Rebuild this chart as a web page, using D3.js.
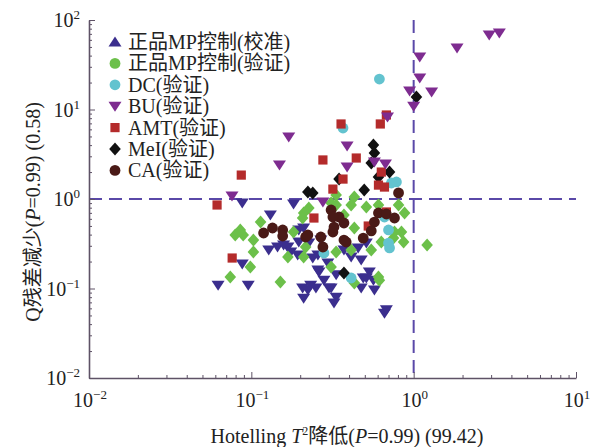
<!DOCTYPE html>
<html>
<head>
<meta charset="utf-8">
<script src="https://cdn.jsdelivr.net/npm/d3@7"></script>
<style>
  body { margin: 0; background: #fff; }
  text { font-family: "Liberation Serif", "Times New Roman", "Noto Sans CJK SC", serif; fill: #222; }
</style>
</head>
<body>
<div id="chart"></div>
<script>
// series values: [Hotelling T2, Q residual]
var mpCalib = [[0.0624,0.109],[0.0957,0.109],[0.0879,0.188],[0.131,0.663],[0.0879,0.902],[0.182,0.88],
  [0.128,0.269],[0.145,0.291],[0.158,0.306],[0.168,0.291],[0.175,0.256],[0.193,0.237],[0.196,0.331],
  [0.226,0.322],[0.210,0.474],[0.196,0.451],[0.207,0.101],[0.210,0.078],[0.232,0.109],[0.257,0.161],
  [0.280,0.124],[0.301,0.101],[0.333,0.080],[0.257,0.237],[0.250,0.101],[0.310,0.101],[0.333,0.142],
  [0.323,0.069],[0.412,0.225],[0.475,0.208],[0.511,0.322],[0.533,0.153],[0.573,0.096],[0.489,0.131],
  [0.661,0.053],[0.296,0.193],[0.372,0.269],[0.455,0.284],[0.268,0.348],[0.565,0.124],[0.239,0.219],
  [0.261,0.153],[0.223,0.096],[0.475,0.101],[0.511,0.131],[0.679,0.058]];
var mpValid = [[0.114,0.553],[0.0796,0.396],[0.0891,0.396],[0.103,0.348],[0.103,0.256],[0.0986,0.174],
  [0.0742,0.134],[0.151,0.118],[0.168,0.225],[0.182,0.428],[0.210,0.698],[0.226,0.793],[0.310,0.902],
  [0.210,0.225],[0.333,0.857],[0.412,0.857],[0.372,0.663],[0.511,0.814],[0.431,0.474],[0.607,0.857],
  [0.807,0.857],[0.879,0.698],[0.762,0.428],[0.841,0.428],[0.751,0.366],[0.867,0.331],[0.632,0.331],
  [1.21,0.306],[0.548,0.269],[0.412,0.269],[0.333,0.256],[0.207,0.613],[0.216,0.291],[0.607,0.134],
  [0.431,0.115],[0.310,0.174],[0.615,0.124],[0.0855,0.451],[0.431,1.05],[0.333,1.11]];
var dcValid = [[0.615,21.9],[0.367,6.21],[0.783,1.55],[0.729,1.51],[0.661,0.629],[0.700,0.322],
  [0.710,0.284],[0.700,0.451],[0.412,0.131],[0.280,0.249]];
var buValid = [[0.076,1.08],[0.149,2.40],[0.170,4.93],[0.276,0.926],[0.389,3.91],[0.389,2.28],
  [0.573,2.59],[0.670,2.46],[0.690,8.24],[0.944,16.1],[1.00,10.9],[1.29,15.7],[1.09,22.5],
  [1.09,38.6],[1.85,48.7],[2.92,68],[3.37,71.6]];
var amtValid = [[0.0615,0.857],[0.0867,1.85],[0.0762,0.219],[0.276,2.73],[0.318,1.29],[0.243,0.613],
  [0.357,6.89],[0.623,6.89],[0.679,8.68],[0.443,2.87],[0.367,1.67],[0.632,2.00],[0.607,1.43],
  [0.661,1.36],[0.679,0.716],[0.525,0.499]];
var meiValid = [[0.223,1.20],[0.565,4.01],[0.573,3.27],[0.347,1.67],[0.496,1.26],[0.710,2.00],
  [0.607,1.76],[0.548,2.53],[0.239,1.17],[1.04,13.8],[0.372,0.149]];
var caValid = [[0.119,0.417],[0.135,0.474],[0.156,0.451],[0.156,0.386],[0.216,0.376],[0.268,0.376],
  [0.276,0.291],[0.310,0.754],[0.318,0.428],[0.807,1.17],[0.607,0.698],[0.679,0.68],[0.573,0.553],
  [0.762,0.613],[0.347,0.629],[0.372,0.539],[0.318,0.629],[0.548,0.44],[0.372,0.348],[0.323,0.486],
  [0.489,0.366],[0.384,0.331],[0.223,0.396]];

var legendLabels = ['正品MP控制(校准)', '正品MP控制(验证)', 'DC(验证)', 'BU(验证)', 'AMT(验证)', 'MeI(验证)', 'CA(验证)'];
var tickExps = [-2, -1, 0, 1, 2];
var limitT2 = 1, limitQ = 1;

var width = 594, height = 447;
var margin = {top: 20, right: 18, bottom: 69, left: 89};

var svg = d3.select('#chart').append('svg')
    .attr('width', width)
    .attr('height', height);

var x = d3.scaleLog().domain([0.01, 10]).range([margin.left, width - margin.right]);
var y = d3.scaleLog().domain([0.01, 100]).range([height - margin.bottom, margin.top]);

var axisColor = '#5e5266';
var dashColor = '#5a48a8';

// custom marker shapes
var triDown = {draw: function (c, s) { c.moveTo(-6.5, -4.5); c.lineTo(6.5, -4.5); c.lineTo(0, 5.5); c.closePath(); }};
var triUp = {draw: function (c, s) { c.moveTo(-6.5, 4.5); c.lineTo(6.5, 4.5); c.lineTo(0, -5.5); c.closePath(); }};
var diamond = {draw: function (c, s) { c.moveTo(0, -6.5); c.lineTo(5.8, 0); c.lineTo(0, 6.5); c.lineTo(-5.8, 0); c.closePath(); }};
var square = {draw: function (c, s) { c.rect(-4.6, -4.6, 9.2, 9.2); }};
var circle = {draw: function (c, s) { c.moveTo(5.4, 0); c.arc(0, 0, 5.4, 0, 2 * Math.PI); }};

var series = [
    {data: mpCalib, color: '#3b2e8e', shape: triDown, legendShape: triUp, legend: 0},
    {data: mpValid, color: '#6cc04a', shape: diamond, legendShape: circle, legend: 1},
    {data: dcValid, color: '#63c3cf', shape: circle, legendShape: circle, legend: 2},
    {data: meiValid, color: '#111111', shape: diamond, legendShape: diamond, legend: 5},
    {data: amtValid, color: '#b42b2b', shape: square, legendShape: square, legend: 4},
    {data: buValid, color: '#7e2c90', shape: triDown, legendShape: triDown, legend: 3},
    {data: caValid, color: '#4a1a17', shape: circle, legendShape: circle, legend: 6}
];

// limit lines
svg.append('line')
    .attr('x1', x(0.01)).attr('x2', x(10))
    .attr('y1', y(limitQ)).attr('y2', y(limitQ))
    .attr('stroke', dashColor).attr('stroke-width', 2).attr('stroke-dasharray', '13,7');
svg.append('line')
    .attr('x1', x(limitT2)).attr('x2', x(limitT2))
    .attr('y1', y(100)).attr('y2', y(0.01))
    .attr('stroke', dashColor).attr('stroke-width', 2).attr('stroke-dasharray', '13,7');

// points
series.forEach(function (s) {
    svg.append('g').selectAll('path')
        .data(s.data)
        .enter().append('path')
        .attr('d', d3.symbol().type(s.shape))
        .attr('transform', function (d) { return 'translate(' + x(d[0]) + ',' + y(d[1]) + ')'; })
        .attr('fill', s.color);
});

// axes with inward ticks
var xAxis = d3.axisBottom(x).tickSizeInner(-4).tickSizeOuter(0).tickFormat('')
    .tickValues(d3.range(-2, 1).flatMap(function (e) { return d3.range(1, 10).map(function (m) { return m * Math.pow(10, e); }); }).concat([10]));
var yAxis = d3.axisLeft(y).tickSizeInner(-4).tickSizeOuter(0).tickFormat('')
    .tickValues(d3.range(-2, 2).flatMap(function (e) { return d3.range(1, 10).map(function (m) { return m * Math.pow(10, e); }); }).concat([100]));

var gx = svg.append('g').attr('transform', 'translate(0,' + y(0.01) + ')').call(xAxis);
var gy = svg.append('g').attr('transform', 'translate(' + x(0.01) + ',0)').call(yAxis);
[gx, gy].forEach(function (g) {
    g.select('.domain').attr('stroke', axisColor).attr('stroke-width', 1.6);
    g.selectAll('.tick line').attr('stroke', axisColor).attr('stroke-width', 1);
});
gx.selectAll('.tick line').attr('y2', function (d) { return Math.abs(Math.log10(d) % 1) < 1e-9 ? -6 : -3; });
gy.selectAll('.tick line').attr('x2', function (d) { return Math.abs(Math.log10(d) % 1) < 1e-9 ? 6 : 3; });

// tick labels 10^n
function powLabel(g, e) {
    g.append('tspan').text('10');
    g.append('tspan').attr('dy', -8).attr('font-size', 13).text(e < 0 ? '\u2212' + (-e) : e);
}
tickExps.slice(0, 4).forEach(function (e) {
    var t = svg.append('text')
        .attr('x', x(Math.pow(10, e)) + 1)
        .attr('y', 407)
        .attr('text-anchor', 'middle')
        .attr('font-size', 20);
    powLabel(t, e);
});
tickExps.forEach(function (e) {
    var t = svg.append('text')
        .attr('x', 80)
        .attr('y', y(Math.pow(10, e)) + 7)
        .attr('text-anchor', 'end')
        .attr('font-size', 20);
    powLabel(t, e);
});

// axis titles
var xt = svg.append('text')
    .attr('x', 347).attr('y', 443)
    .attr('text-anchor', 'middle')
    .attr('font-size', 20);
xt.append('tspan').text('Hotelling ');
xt.append('tspan').attr('font-style', 'italic').text('T');
xt.append('tspan').attr('dy', -8).attr('font-size', 12).text('2');
xt.append('tspan').attr('dy', 8).text('降低(');
xt.append('tspan').attr('font-style', 'italic').text('P');
xt.append('tspan').text('=0.99) (99.42)');

var yt = svg.append('text')
    .attr('transform', 'translate(40,' + 212 + ') rotate(-90)')
    .attr('text-anchor', 'middle')
    .attr('font-size', 20);
yt.append('tspan').text('Q残差减少(');
yt.append('tspan').attr('font-style', 'italic').text('P');
yt.append('tspan').text('=0.99) (0.58)');

// legend
var legend = svg.append('g');
series.forEach(function (s) {
    var row = legend.append('g')
        .attr('transform', 'translate(115,' + (42 + s.legend * 21.4) + ')');
    row.append('path')
        .attr('d', d3.symbol().type(s.legendShape))
        .attr('fill', s.color);
    row.append('text')
        .attr('x', 13)
        .attr('y', 7)
        .attr('font-size', 20)
        .text(legendLabels[s.legend]);
});
</script>
</body>
</html>
